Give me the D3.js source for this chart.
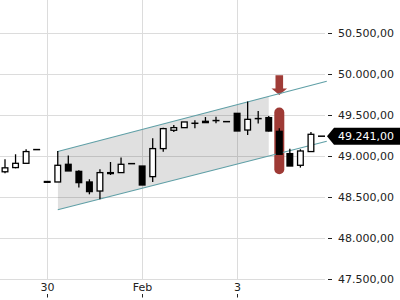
<!DOCTYPE html>
<html>
<head>
<meta charset="utf-8">
<script src="https://cdn.jsdelivr.net/npm/d3@7"></script>
<style>
html,body{margin:0;padding:0;background:#fff;}
svg{display:block;font-family:"DejaVu Sans",sans-serif;}
</style>
</head>
<body>
<svg id="chart" width="400" height="300"></svg>
<script>
// ---- data ----
const openV  = [48808,48859,48911,49078,48690,48684,48899,48813,48684,48574,48798,48798,48907,48878,48749,49090,49313,49345,49398,49422,49431,49418,49519,49316,49455,49467,49300,49029,48887,49054,49241];
const highV  = [48960,49021,49082,49078,48690,49061,49005,48826,48717,48838,48927,48981,48907,48878,49215,49345,49377,49414,49434,49474,49479,49418,49519,49662,49547,49487,49337,49088,49082,49292,49241];
const lowV   = [48790,48850,48911,49078,48680,48684,48818,48616,48534,48473,48769,48798,48907,48647,48684,49051,49292,49345,49337,49406,49398,49418,49304,49255,49394,49297,49021,48878,48859,49054,49241];
const closeV = [48856,48911,49054,49078,48680,48887,48818,48676,48567,48798,48786,48899,48907,48647,49090,49333,49345,49414,49398,49406,49431,49418,49304,49446,49455,49304,49021,48878,49061,49264,49241];
const yTicks = [47500,48000,48500,49000,49500,50000,50500];
const xTickIdx = [4,13,22];
const xTickLabels = ["30","Feb","3"];
const lastPrice = 49241;
// channel: [startIdx, endIdx], upper & lower line values at those ends
const chanIdx = [5, 30.5];
const chanUpper = [49055, 49910];
const chanLower = [48345, 49180];
const chanFillEnd = 25;
// highlight on candle 26
const markIdx = 26;
const capsuleRange = [48777, 49590];
const arrowRange = [49742, 49982];

// ---- scales ----
const x = d3.scaleLinear().domain([0, 30]).range([5, 321.5]);
const y = d3.scaleLinear().domain([47500, 50500]).range([279.3, 32.7]);
const fmt = v => d3.format(",.2f")(v).replace(/,/g,"#").replace(".",",").replace(/#/g,".");

const svg = d3.select("#chart");
const plotRight = 325;

// grid
const grid = svg.append("g");
yTicks.forEach(t => {
  const yy = Math.round(y(t)) + 0.5;
  grid.append("line").attr("x1",0).attr("x2",plotRight).attr("y1",yy).attr("y2",yy)
    .attr("stroke","#dcdcdc").attr("stroke-width",1);
});
xTickIdx.forEach(i => {
  const xx = Math.round(x(i)) + 0.5;
  grid.append("line").attr("x1",xx).attr("x2",xx).attr("y1",0).attr("y2",Math.round(y(47500))+0.5)
    .attr("stroke","#dcdcdc").attr("stroke-width",1);
});

// channel fill
svg.append("defs").append("clipPath").attr("id","fillclip")
  .append("rect").attr("x", x(chanIdx[0])).attr("y",0)
  .attr("width", x(chanFillEnd) - x(chanIdx[0])).attr("height",300);
const poly = [[x(chanIdx[0]), y(chanUpper[0])],[x(chanIdx[1]), y(chanUpper[1])],
              [x(chanIdx[1]), y(chanLower[1])],[x(chanIdx[0]), y(chanLower[0])]];
svg.append("polygon").attr("points", poly.map(p=>p.join(",")).join(" "))
  .attr("fill","rgba(0,0,0,0.12)").attr("clip-path","url(#fillclip)");

// capsule highlight
const cx = x(markIdx);
svg.append("rect").attr("x", cx-5).attr("width",10)
  .attr("y", y(capsuleRange[1])).attr("height", y(capsuleRange[0]) - y(capsuleRange[1]))
  .attr("rx",5).attr("ry",5).attr("fill","#9e3a35");

// arrow
const aTop = y(arrowRange[1]), aTip = y(arrowRange[0]);
const headH = 6.5;
svg.append("path").attr("d",
  `M${cx-3.8},${aTop} L${cx+3.8},${aTop} L${cx+3.8},${aTip-headH} L${cx+7.8},${aTip-headH} L${cx},${aTip} L${cx-7.8},${aTip-headH} L${cx-3.8},${aTip-headH} Z`)
  .attr("fill","#a03c37");

// channel lines
[chanUpper, chanLower].forEach(vals => {
  svg.append("line").attr("x1", x(chanIdx[0])).attr("y1", y(vals[0]))
    .attr("x2", x(chanIdx[1])).attr("y2", y(vals[1]))
    .attr("stroke","#5f9fa6").attr("stroke-width",1.1);
});

// candles
const cw = 7;
const cg = svg.append("g");
openV.forEach((o,i) => {
  const c = closeV[i], h = highV[i], l = lowV[i];
  const xx = x(i);
  if (h !== l) {
    cg.append("line").attr("x1",xx).attr("x2",xx).attr("y1",y(h)).attr("y2",y(l))
      .attr("stroke","#000").attr("stroke-width",1.3);
  }
  if (o === c) {
    cg.append("line").attr("x1",xx-cw/2).attr("x2",xx+cw/2).attr("y1",y(o)).attr("y2",y(o))
      .attr("stroke","#000").attr("stroke-width",1.5);
  } else {
    const top = y(Math.max(o,c)), bot = y(Math.min(o,c));
    cg.append("rect").attr("x",xx-cw/2+0.65).attr("width",cw-1.3)
      .attr("y",top).attr("height",Math.max(bot-top,0.5))
      .attr("fill", c > o ? "#fff" : "#000").attr("stroke","#000").attr("stroke-width",1.3);
  }
});

// y axis labels
const ax = svg.append("g");
yTicks.forEach(t => {
  const yy = y(t);
  ax.append("line").attr("x1",328).attr("x2",332).attr("y1",Math.round(yy)+0.5).attr("y2",Math.round(yy)+0.5)
    .attr("stroke","#222").attr("stroke-width",1);
  ax.append("text").attr("x",338).attr("y",yy).attr("dy","0.36em")
    .attr("font-size",11).attr("fill","#222").text(fmt(t));
});

// x axis labels
xTickIdx.forEach((i,k) => {
  const xx = Math.round(x(i)) + 0.5;
  ax.append("text").attr("x",xx).attr("y",291.3).attr("text-anchor","middle")
    .attr("font-size",11).attr("fill","#222").text(xTickLabels[k]);
  ax.append("line").attr("x1",xx).attr("x2",xx).attr("y1",294).attr("y2",297.5)
    .attr("stroke","#222").attr("stroke-width",1);
});

// last price tag
const py = y(lastPrice);
svg.append("path").attr("d",
  `M327,${py} L334,${py-8.5} L400,${py-8.5} L400,${py+8.5} L334,${py+8.5} Z`).attr("fill","#000");
svg.append("text").attr("x",338).attr("y",py).attr("dy","0.36em")
  .attr("font-size",11).attr("fill","#fff").text(fmt(lastPrice));
</script>
</body>
</html>
